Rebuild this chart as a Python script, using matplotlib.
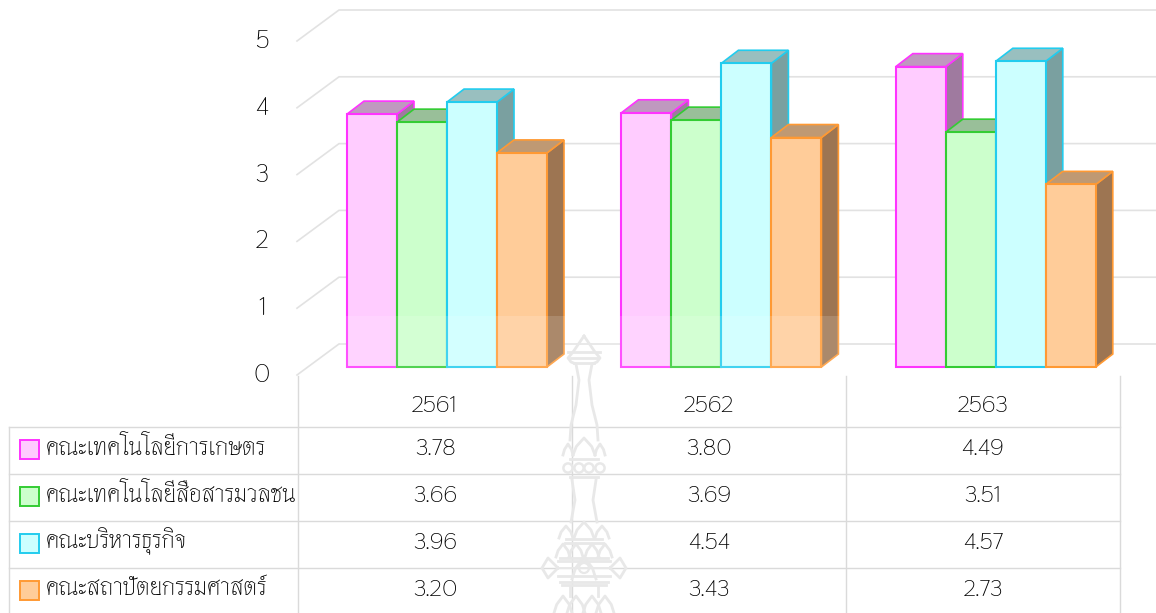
import matplotlib
matplotlib.use("Agg")
import matplotlib.pyplot as plt
from matplotlib.patches import Polygon, Rectangle, Circle

years = ["2561", "2562", "2563"]
faculties = ["คณะเทคโนโลยีการเกษตร", "คณะเทคโนโลยีสื่อสารมวลชน", "คณะบริหารธุรกิจ", "คณะสถาปัตยกรรมศาสตร์"]
agri = [3.78, 3.80, 4.49]
media = [3.66, 3.69, 3.51]
business = [3.96, 4.54, 4.57]
arch = [3.20, 3.43, 2.73]
series = [agri, media, business, arch]
yticks = [0, 1, 2, 3, 4, 5]

front = ["#FFCCFF", "#CCFFCC", "#CCFFFF", "#FFCC99"]
edge = ["#FF33FF", "#33CC33", "#22CCEE", "#FF9933"]
top = ["#BF99BF", "#99BF99", "#99BFBF", "#BF9973"]
side = ["#9F7A9F", "#7AA07A", "#7AA0A0", "#9D7552"]

FONT = ["Thasadith", "DejaVu Sans"]
TXT = "#000000"

W, H = 1156, 613
PX_Y, Y0 = 66.9, 367
PX_X, X0 = 274.4, 347
BW, DX, DY = 50 / PX_X, 17 / PX_X, 13 / PX_Y

fig = plt.figure(figsize=(W / 100, H / 100), dpi=100)
px = fig.add_axes([0, 0, 1, 1], zorder=0)
px.set_xlim(0, W); px.set_ylim(H, 0); px.axis("off")
ax = fig.add_axes([0, 0, 1, 1], zorder=1)
ax.set_xlim(-X0 / PX_X, (W - X0) / PX_X)
ax.set_ylim((Y0 - H) / PX_Y, Y0 / PX_Y)
ax.axis("off"); ax.patch.set_alpha(0)
ov = fig.add_axes([0, 0, 1, 1], zorder=2)
ov.set_xlim(0, W); ov.set_ylim(H, 0); ov.axis("off"); ov.patch.set_alpha(0)

GRID = "#E2E2E2"
for v in yticks:
    yb = 344 - 66.8 * v
    px.plot([297, 339, W], [yb + 31, yb, yb], color=GRID, lw=1.2, zorder=1)
    px.text(262, yb + 31, str(v), ha="center", va="center", fontsize=18, family=FONT, color=TXT)

for i in range(3):
    for k, s in enumerate(series):
        x = i + k * BW
        v = s[i]
        ec = edge[k]
        ax.add_patch(Polygon([(x + BW, 0), (x + BW + DX, DY), (x + BW + DX, v + DY), (x + BW, v)], fc=side[k], ec=ec, lw=1.2, zorder=2 + k))
        ax.add_patch(Polygon([(x, v), (x + DX, v + DY), (x + BW + DX, v + DY), (x + BW, v)], fc=top[k], ec=ec, lw=1.2, zorder=2 + k))
        ax.add_patch(Rectangle((x, 0), BW, v, fc=front[k], ec=ec, lw=1.5, zorder=2 + k))

LINE = "#DADADA"
for x in (298, 572, 846, 1120):
    px.plot([x, x], [376, H], color=LINE, lw=1.0)
px.plot([9, 9], [427, H], color=LINE, lw=1.0)
rows = [427, 474, 521, 568]
for r in rows:
    px.plot([9, 1120], [r, r], color=LINE, lw=1.0)
cx = [435, 709, 983]
for j, y in enumerate(years):
    px.text(cx[j], 405, y, ha="center", va="center", fontsize=17, family=FONT, color=TXT)
for k, name in enumerate(faculties):
    r = rows[k]
    px.add_patch(Rectangle((19.5, r + 13), 19, 19, fc=front[k], ec=edge[k], lw=1.4))
    px.text(46, r + 20, name, ha="left", va="center", fontsize=17.5, family=FONT, color=TXT)
    for j in range(3):
        px.text(cx[j], r + 21, f"{series[k][j]:.2f}", ha="center", va="center", fontsize=17, family=FONT, color=TXT)

# translucent seal watermark
ov.add_patch(Rectangle((340, 316), 500, 60, fc="white", ec="none", alpha=0.15))
C, WM = 584, "#E8E8E8"
def mirrored(points, lw=2.0):
    xs = [C + p[0] for p in points]
    ys = [p[1] for p in points]
    ov.plot(xs, ys, color=WM, lw=lw, solid_joinstyle="round")
    ov.plot([C - p[0] for p in points], ys, color=WM, lw=lw, solid_joinstyle="round")
def band(hw, y, lw=2.0):
    ov.plot([C - hw, C + hw], [y, y], color=WM, lw=lw)
def peaks(xc, y0, y1, hw):
    ov.plot([xc - hw, xc - hw * 0.7, xc, xc + hw * 0.7, xc + hw], [y1, y0 + (y1 - y0) * 0.5, y0, y0 + (y1 - y0) * 0.5, y1], color=WM, lw=2.0)

mirrored([(0, 336), (11, 352), (16, 358), (13, 362), (8, 364), (5, 380), (8, 405), (13, 425), (14, 440)])
band(16, 352); band(13, 358); band(10, 363)
for dx_, hw, y0 in ((0, 11, 438), (-16, 5, 444), (16, 5, 444)):
    peaks(C + dx_, y0, 455, hw)
band(14, 459); band(14, 477)
for dx_ in (-16, -5, 5, 16):
    ov.add_patch(Circle((C + dx_, 468), 4.6, fc="none", ec=WM, lw=1.8))
mirrored([(12, 480), (9, 500), (13, 522)])
for dx_, hw, y0 in ((0, 10, 522), (-18, 7, 526), (18, 7, 526)):
    peaks(C + dx_, y0, 538, hw)
band(18, 539); band(19, 543)
for dx_ in (-21, -8, 8, 21):
    peaks(C + dx_, 544, 557, 7)
band(24, 558); band(26, 561)
mirrored([(26, 568), (36, 558), (42, 568), (36, 578), (26, 568)], lw=2.0)
ov.plot([C - 26, C + 26], [568, 568], color=WM, lw=1.4)
ov.add_patch(Circle((C, 568), 5, fc="none", ec=WM, lw=1.6))
peaks(C, 557, 579, 12)
band(26, 576); band(24, 582); band(22, 585)
for dx_ in (-21, 8, -8, 21):
    peaks(C + dx_, 596, 613, 9)
mirrored([(14, 586), (14, 596)])

fig.savefig("out.png", dpi=100)
